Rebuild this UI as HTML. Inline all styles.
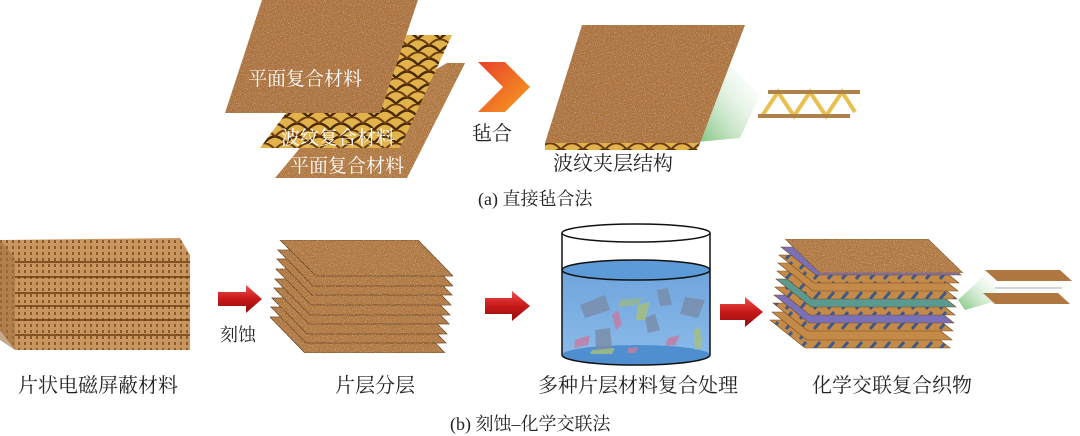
<!DOCTYPE html>
<html><head><meta charset="utf-8"><style>
html,body{margin:0;padding:0;background:#fff;width:1080px;height:436px;overflow:hidden}
svg{display:block}
text{font-family:"Liberation Serif","Noto Serif CJK SC","Noto Sans CJK SC",serif;}
</style></head><body>
<svg width="1080" height="436" viewBox="0 0 1080 436" xmlns="http://www.w3.org/2000/svg">
<defs>
<filter id="nz" x="0" y="0" width="100%" height="100%">
<feTurbulence type="fractalNoise" baseFrequency="0.9" numOctaves="2" seed="3" result="t"/>
<feColorMatrix in="t" type="matrix" values="0 0 0 0 0.95  0 0 0 0 0.8  0 0 0 0 0.6  0 0 0 1.0 -0.5" result="s"/>
<feComposite in="s" in2="SourceGraphic" operator="in" result="c"/>
<feMerge><feMergeNode in="SourceGraphic"/><feMergeNode in="c"/></feMerge>
</filter>
<pattern id="scale" width="22" height="13" patternUnits="userSpaceOnUse">
<rect width="22" height="13" fill="#e2b34a"/>
<path d="M0 13 Q11 0 22 13" fill="none" stroke="#4a2a0a" stroke-width="2.5"/>
<path d="M-11 6.5 Q0 -6 11 6.5 M11 6.5 Q22 -6 33 6.5" fill="none" stroke="#6b3c10" stroke-width="2"/>
</pattern>
<pattern id="grid" width="6" height="6" patternUnits="userSpaceOnUse">
<rect width="6" height="6" fill="#c99660"/>
<rect x="0" y="0" width="2" height="3" fill="#8c5a2a"/>
</pattern>
<pattern id="hatch" width="14" height="10" patternUnits="userSpaceOnUse">
<rect width="14" height="10" fill="#c48a48"/>
<path d="M2 9 L8 2" stroke="#3d5a8a" stroke-width="3"/>
</pattern>
<linearGradient id="chev" x1="0" y1="0" x2="1" y2="1"><stop offset="0" stop-color="#e8402a"/><stop offset="1" stop-color="#f7a020"/></linearGradient>
<linearGradient id="red" x1="0" y1="0" x2="0" y2="1"><stop offset="0" stop-color="#f05050"/><stop offset="0.5" stop-color="#c81818"/><stop offset="1" stop-color="#901010"/></linearGradient>
<linearGradient id="cone" x1="0" y1="1" x2="1" y2="0"><stop offset="0" stop-color="#7cc27a"/><stop offset="1" stop-color="#fff" stop-opacity="0"/></linearGradient>
<linearGradient id="water" x1="0" y1="0" x2="0" y2="1"><stop offset="0" stop-color="#6fa4dc"/><stop offset="1" stop-color="#8cbcea"/></linearGradient>
</defs>

<!-- (a) -->
<g filter="url(#nz)">
<polygon points="447,63 465,63 407,178 275,178 300,148" fill="#b07840"/>
</g>
<polygon points="402,35 452,35 400,148 260,148 292,105" fill="url(#scale)"/>
<g filter="url(#nz)">
<polygon points="447,63 465,63 418,156 395,156" fill="#b07840"/>
<polygon points="262,0 418,0 380,113 225,113" fill="#ab723e"/>
</g>
<text x="248" y="85" font-size="19" fill="#fff">平面复合材料</text>
<text x="281" y="144" font-size="19" fill="#fff">波纹复合材料</text>
<text x="290" y="172" font-size="19" fill="#fff">平面复合材料</text>

<polygon points="478,62 505,62 530,87 505,112 478,112 503,87" fill="url(#chev)"/>
<text x="472" y="140" font-size="20" fill="#222">毡合</text>

<polygon points="697,142 725,60 760,95 740,138" fill="url(#cone)"/>
<polygon points="545,143 700,143 697,150 545,150" fill="url(#scale)"/>
<g filter="url(#nz)"><polygon points="582,25 745,25 700,143 545,143" fill="#ab723e"/></g>
<g stroke="#e8c050" stroke-width="4" fill="none">
<path d="M762 116 L778 92 L794 116 L810 92 L826 116 L842 92 L855 112"/>
</g>
<rect x="768" y="90" width="92" height="4" fill="#b0804a"/>
<rect x="758" y="114" width="92" height="4" fill="#b0804a"/>
<text x="553" y="170" font-size="20" fill="#222">波纹夹层结构</text>
<text x="478" y="205" font-size="18" fill="#222">(a) 直接毡合法</text>

<!-- (b) -->
<polygon points="0,240 180,238 190,255 190,350 15,350 0,330" fill="url(#grid)"/>
<g stroke="#6a3a10" stroke-width="1.5">
<line x1="15" y1="277" x2="190" y2="277"/><line x1="15" y1="293" x2="190" y2="293"/>
<line x1="15" y1="306" x2="190" y2="306"/><line x1="15" y1="320" x2="190" y2="320"/>
<line x1="15" y1="335" x2="190" y2="335"/><line x1="15" y1="262" x2="190" y2="262"/>
</g>
<polygon points="0,240 15,258 15,350 0,340" fill="#a07040" opacity="0.6"/>

<path d="M218 292 L246 292 L246 285 L262 299 L246 313 L246 306 L218 306Z" fill="url(#red)"/>
<text x="220" y="341" font-size="18" fill="#222">刻蚀</text>

<g filter="url(#nz)" stroke="#6a4018" stroke-width="0.8">
<polygon points="270,317 410,317 445,353 305,353" fill="#b07840"/>
<polygon points="271,307 411,307 446,343 306,343" fill="#b07840"/>
<polygon points="272,298 412,298 447,334 307,334" fill="#b07840"/>
<polygon points="274,288 414,288 449,324 309,324" fill="#b07840"/>
<polygon points="275,279 415,279 450,315 310,315" fill="#b07840"/>
<polygon points="276,269 416,269 451,305 311,305" fill="#b07840"/>
<polygon points="277,259 417,259 452,295 312,295" fill="#b07840"/>
<polygon points="278,250 418,250 453,286 313,286" fill="#b07840"/>
<polygon points="280,240 418,240 453,276 316,276" fill="#b07840"/>
</g>

<path d="M485 298 L512 298 L512 291 L530 306 L512 321 L512 314 L485 314Z" fill="url(#red)"/>

<!-- beaker -->
<path d="M562 270 L562 355 A74 10 0 0 0 710 355 L710 270Z" fill="url(#water)"/>
<ellipse cx="636" cy="355" rx="74" ry="10" fill="#4f8fd0"/>
<ellipse cx="636" cy="270" rx="74" ry="10" fill="#5c9ad8" stroke="#111" stroke-width="1.5"/>
<g opacity="0.8">
<polygon points="580,305 605,295 610,310 585,318" fill="#7a8ca8"/>
<polygon points="620,300 642,298 638,305 618,307" fill="#9ab88a"/>
<polygon points="657,290 668,288 672,305 660,306" fill="#7a8ca8"/>
<polygon points="685,297 705,300 698,318 680,314" fill="#7a8ca8"/>
<polygon points="612,315 618,310 622,325 616,330" fill="#c87aa0"/>
<polygon points="638,305 650,302 645,320 636,320" fill="#a8c078"/>
<polygon points="645,318 655,314 660,330 648,333" fill="#7a8ca8"/>
<polygon points="575,340 590,335 588,345 574,348" fill="#c87aa0"/>
<polygon points="595,330 610,328 612,348 596,350" fill="#7a8ca8"/>
<polygon points="592,350 615,348 612,354 590,354" fill="#a8c078"/>
<polygon points="668,338 680,335 675,345 665,346" fill="#c87aa0"/>
<polygon points="694,330 700,327 702,348 695,350" fill="#a8c078"/>
<polygon points="628,348 638,347 636,353 627,353" fill="#c87aa0"/>
</g>
<path d="M562 233 L562 355 A74 10 0 0 0 710 355 L710 233" fill="none" stroke="#111" stroke-width="1.5"/>
<ellipse cx="636" cy="233" rx="74" ry="9" fill="none" stroke="#111" stroke-width="1.5"/>

<path d="M720 304 L745 304 L745 297 L763 312 L745 327 L745 320 L720 320Z" fill="url(#red)"/>

<!-- stack 4 -->
<g stroke="#7a4a20" stroke-width="0.6">
<polygon points="770,320 915,320 950,348 805,348" fill="url(#hatch)"/>
<polygon points="772,312 917,312 952,340 807,340" fill="#c48a48"/>
<polygon points="773,303 918,303 953,331 808,331" fill="url(#hatch)"/>
<polygon points="774,295 919,295 954,323 809,323" fill="#7a70b8"/>
<polygon points="775,287 920,287 955,315 810,315" fill="url(#hatch)"/>
<polygon points="776,279 921,279 956,307 811,307" fill="#5a9a90"/>
<polygon points="777,271 922,271 957,299 812,299" fill="url(#hatch)"/>
<polygon points="778,263 923,263 958,291 813,291" fill="#c48a48"/>
<polygon points="779,255 924,255 959,283 814,283" fill="url(#hatch)"/>
<polygon points="781,247 926,247 961,275 816,275" fill="#7a70b8"/>
</g>
<g filter="url(#nz)"><polygon points="785,239 928,239 963,273 820,273" fill="#b07840" stroke="#7a4a20" stroke-width="0.6"/></g>
<polygon points="958,300 990,270 1000,300 965,310" fill="url(#cone)"/>
<polygon points="985,270 1060,270 1072,281 997,281" fill="#b07840"/>
<polygon points="983,293 1058,293 1070,304 995,304" fill="#b07840"/>
<line x1="995" y1="288" x2="1062" y2="288" stroke="#aab" stroke-width="1"/>

<text x="18" y="392" font-size="20" fill="#222">片状电磁屏蔽材料</text>
<text x="335" y="392" font-size="20" fill="#222">片层分层</text>
<text x="538" y="392" font-size="20" fill="#222">多种片层材料复合处理</text>
<text x="812" y="392" font-size="20" fill="#222">化学交联复合织物</text>
<text x="450" y="430" font-size="18" fill="#222">(b) 刻蚀–化学交联法</text>
</svg>
</body></html>
